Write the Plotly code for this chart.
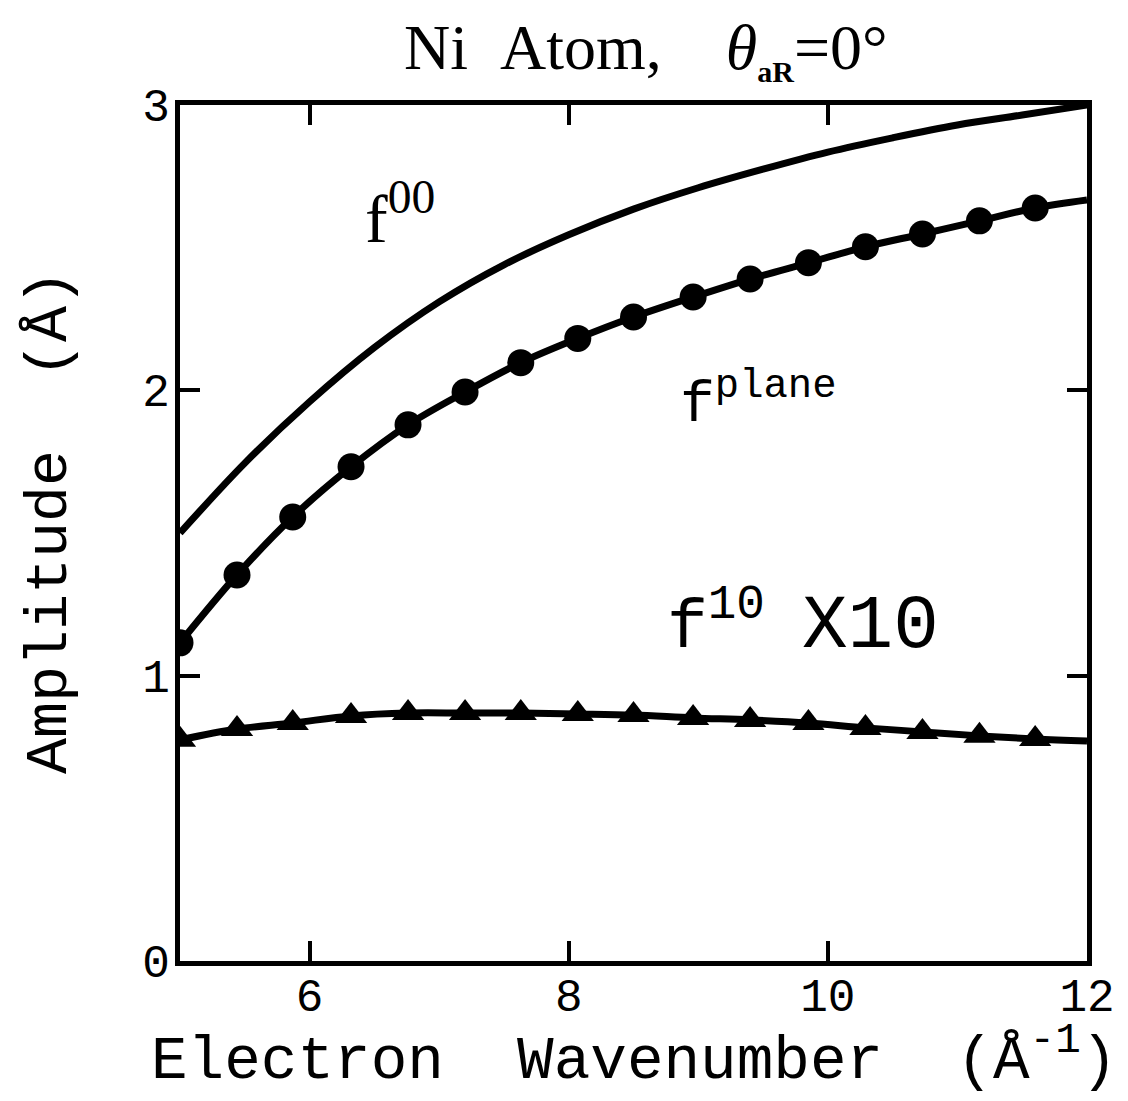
import plotly.graph_objects as go

# ---- data ----
k_f00 = [5.0, 5.5, 6.0, 6.5, 7.0, 7.5, 8.0, 8.5, 9.0, 9.5, 10.0, 10.5, 11.0, 11.5, 12.0]
amp_f00 = [1.50, 1.745, 1.96, 2.15, 2.31, 2.44, 2.545, 2.635, 2.71, 2.775, 2.835, 2.885, 2.93, 2.965, 3.0]

k_pts = [5.0, 5.44, 5.87, 6.32, 6.76, 7.20, 7.63, 8.07, 8.50, 8.96, 9.40, 9.85, 10.29, 10.73, 11.17, 11.60]
amp_plane = [1.115, 1.353, 1.556, 1.732, 1.879, 1.994, 2.097, 2.182, 2.257, 2.327, 2.390, 2.447, 2.503, 2.548, 2.594, 2.639]
amp_f10x10 = [0.775, 0.813, 0.834, 0.859, 0.869, 0.869, 0.869, 0.866, 0.862, 0.852, 0.845, 0.834, 0.817, 0.803, 0.789, 0.778]

k_end = 12.0
amp_plane_end = 2.667
amp_f10_end = 0.771

x_ticks = [6, 8, 10, 12]
y_ticks = [0, 1, 2, 3]

MONO = "Liberation Mono, Courier New, monospace"
SERIF = "Liberation Serif, Times New Roman, serif"

fig = go.Figure()

fig.add_trace(go.Scatter(x=k_f00, y=amp_f00, mode="lines",
                         line=dict(color="black", width=7, shape="spline"),
                         showlegend=False))
fig.add_trace(go.Scatter(x=k_pts + [k_end], y=amp_plane + [amp_plane_end], mode="lines",
                         line=dict(color="black", width=7, shape="spline"),
                         showlegend=False))
fig.add_trace(go.Scatter(x=k_pts, y=amp_plane, mode="markers",
                         marker=dict(color="black", size=27, symbol="circle"),
                         showlegend=False))
fig.add_trace(go.Scatter(x=k_pts + [k_end], y=amp_f10x10 + [amp_f10_end], mode="lines",
                         line=dict(color="black", width=7, shape="spline"),
                         showlegend=False))
fig.add_trace(go.Scatter(x=k_pts, y=amp_f10x10, mode="markers",
                         marker=dict(color="black", size=28, symbol="triangle-up"),
                         showlegend=False))

axis_common = dict(showgrid=False, zeroline=False, showline=True, linecolor="black",
                   linewidth=5, ticks="inside", ticklen=20, tickwidth=4, tickcolor="black",
                   mirror="allticks", tickfont=dict(family=MONO, size=46, color="black"))

fig.update_xaxes(range=[5, 12], tickvals=x_ticks, ticktext=[str(v) for v in x_ticks],
                 ticklabelstandoff=-10, **axis_common)
fig.update_yaxes(range=[0, 3], tickvals=y_ticks, ticktext=[str(v) for v in y_ticks],
                 ticklabelstandoff=-4, **axis_common)

# page has an 8px body margin: work in figure pixels = reference pixels - 8
OFF = 8
W, H = 1120, 1093
L, T = 180 - OFF, 105 - OFF
PR, PB = 1087 - OFF, 961 - OFF
R, B = W - PR, H - PB
pw, ph = PR - L, PB - T


def px_ann(text, rx, ry, family, size, angle=0):
    fx, fy = rx - OFF, ry - OFF
    return dict(text=text, x=(fx - L) / pw, y=(PB - fy) / ph, xref="paper", yref="paper",
                xanchor="center", yanchor="middle", showarrow=False, textangle=angle,
                font=dict(family=family, size=size, color="black"))


annotations = [
    px_ann("Ni\u00a0\u00a0Atom,\u00a0\u00a0\u00a0\u00a0<i>θ</i><sub><span style='font-size:30px'><b>aR</b></span></sub>=0°",
           646, 50, SERIF, 64),
    px_ann("Electron\u00a0\u00a0Wavenumber\u00a0\u00a0(Å<sup>-1</sup>)", 634, 1056, MONO, 61),
    px_ann("Amplitude\u00a0\u00a0(Å)", 50, 522, MONO, 60, -90),
    px_ann("f<sup>00</sup>", 400, 214, SERIF, 68),
    px_ann("f<sup>plane</sup>", 758, 400, MONO, 58),
    px_ann("f<sup>10</sup>", 716, 622, MONO, 68),
    px_ann("X10", 870, 627, MONO, 76),
]

fig.update_layout(
    width=W, height=H,
    margin=dict(l=L, r=R, t=T, b=B),
    paper_bgcolor="white", plot_bgcolor="white",
    annotations=annotations,
)

fig.write_html("out.html")
